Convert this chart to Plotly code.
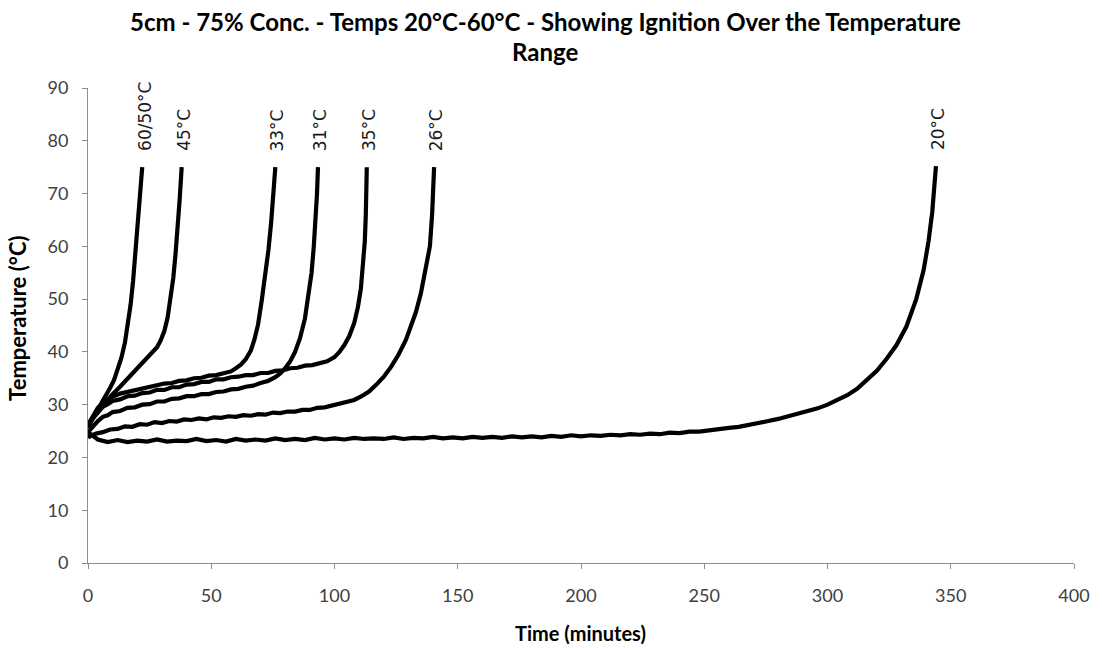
import plotly.graph_objects as go

# ---- data ----
t_60_50 = [0, 1.5, 3, 4.5, 6, 7.5, 9, 10.5, 12, 13.5, 15, 16.2, 17.3, 18.3, 19.2, 20, 20.8, 21.5, 22]
temp_60_50 = [25.8, 27.0, 28.4, 29.4, 30.8, 31.8, 33.2, 34.6, 36.5, 38.8, 41.8, 45.0, 49.0, 53.5, 58.5, 63.5, 68.5, 72.0, 75.0]

t_45 = [0, 2, 4, 6, 8, 10, 13, 16, 19, 22, 24, 26, 28, 29.5, 31, 32.3, 33.5, 34.6, 35.5, 36.4, 37.2, 38]
temp_45 = [26.0, 27.5, 28.9, 29.9, 31.0, 32.0, 33.4, 34.9, 36.4, 37.9, 38.9, 39.8, 40.9, 42.2, 44.0, 46.5, 50.0, 54.0, 58.5, 63.5, 69.0, 75.0]

t_33 = [0, 2, 4, 6, 8, 10, 13, 16, 19, 22, 25, 28, 31, 34, 37, 40, 43, 46, 49, 52, 55, 58, 60, 62, 64, 66, 67.5, 69, 70.5, 72, 73.2, 74.3, 75.2, 76]
temp_33 = [26.2, 28.0, 29.4, 30.3, 31.0, 31.5, 32.1, 32.4, 32.9, 33.0, 33.5, 33.6, 34.0, 34.1, 34.5, 34.6, 35.0, 35.1, 35.5, 35.6, 36.0, 36.3, 36.9, 37.6, 38.6, 40.2, 42.3, 45.2, 49.8, 54.5, 59.3, 64.5, 70.0, 75.0]

t_31 = [0, 2, 4, 6, 8, 10, 13, 16, 19, 22, 25, 28, 31, 34, 37, 40, 43, 46, 49, 52, 55, 58, 61, 64, 67, 70, 73, 76, 78, 80, 82, 84, 86, 88, 89.5, 90.7, 91.6, 92.4, 92.9, 93.3]
temp_31 = [24.8, 26.0, 26.9, 27.7, 28.0, 28.6, 28.8, 29.4, 29.5, 30.0, 30.1, 30.6, 30.6, 31.1, 31.2, 31.6, 31.6, 32.0, 32.0, 32.4, 32.5, 32.9, 33.0, 33.4, 33.6, 34.1, 34.5, 35.2, 35.9, 36.9, 38.2, 40.0, 42.6, 46.3, 50.5, 55.0, 60.0, 65.5, 70.0, 75.0]

t_35 = [0, 2, 4, 6, 8, 10, 13, 16, 19, 22, 25, 28, 31, 34, 37, 40, 43, 46, 49, 52, 55, 58, 61, 64, 67, 70, 73, 76, 79, 82, 85, 88, 91, 94, 97, 100, 102, 104, 106, 108, 109.5, 110.7, 111.7, 112.3, 112.7, 112.9, 113.1]
temp_35 = [25.6, 27.4, 28.5, 29.6, 30.1, 30.7, 31.0, 31.6, 31.7, 32.2, 32.3, 32.8, 32.8, 33.3, 33.3, 33.8, 33.9, 34.3, 34.3, 34.8, 34.8, 35.2, 35.3, 35.6, 35.6, 36.0, 36.0, 36.4, 36.5, 36.9, 37.0, 37.4, 37.5, 37.9, 38.2, 39.0, 40.0, 41.3, 43.0, 45.5, 48.5, 52.0, 56.5, 61.0, 66.0, 70.5, 75.0]

t_26 = [0, 3, 6, 9, 12, 15, 18, 21, 24, 27, 30, 33, 36, 39, 42, 45, 48, 51, 54, 57, 60, 63, 66, 69, 72, 75, 78, 81, 84, 87, 90, 93, 96, 99, 102, 105, 108, 111, 114, 117, 120, 123, 126, 129, 131, 133, 135, 137, 138.7, 139.6, 140.1, 140.4]
temp_26 = [23.8, 24.5, 24.8, 25.3, 25.4, 25.9, 25.8, 26.3, 26.2, 26.7, 26.5, 26.9, 26.8, 27.2, 27.1, 27.4, 27.2, 27.6, 27.5, 27.8, 27.7, 28.0, 27.9, 28.2, 28.1, 28.5, 28.4, 28.7, 28.7, 29.0, 29.0, 29.4, 29.5, 29.9, 30.1, 30.5, 30.9, 31.6, 32.5, 33.8, 35.3, 37.2, 39.5, 42.3, 44.8, 47.5, 51.0, 55.5, 60.0, 66.0, 70.5, 75.0]

t_20 = [0, 4, 8, 12, 16, 20, 24, 28, 32, 36, 40, 44, 48, 52, 56, 60, 64, 68, 72, 76, 80, 84, 88, 92, 96,
        100, 104, 108, 112, 116, 120, 124, 128, 132, 136, 140, 144, 148, 152, 156, 160, 164, 168, 172, 176,
        180, 184, 188, 192, 196, 200, 204, 208, 212, 216, 220, 224, 228, 232, 236, 240, 244, 248, 252, 256,
        260, 264, 268, 272, 276, 280, 284, 288, 292, 296, 300, 304, 308, 312, 316, 320, 324, 328, 332, 336,
        339, 341, 342.5, 343.4, 344]
temp_20 = [24.8, 23.4, 22.9, 23.3, 22.9, 23.2, 23.0, 23.4, 23.0, 23.2, 23.1, 23.5, 23.1, 23.3, 23.0, 23.5, 23.2, 23.4, 23.2, 23.6, 23.3, 23.5, 23.3, 23.7, 23.4,
           23.6, 23.4, 23.7, 23.5, 23.6, 23.5, 23.8, 23.5, 23.7, 23.6, 23.9, 23.6, 23.8, 23.6, 23.9, 23.7, 23.9, 23.7, 24.0, 23.8,
           24.0, 23.8, 24.1, 23.9, 24.2, 24.0, 24.2, 24.1, 24.3, 24.2, 24.4, 24.3, 24.5, 24.4, 24.7, 24.6, 24.9, 24.9, 25.2, 25.3,
           25.6, 25.8, 26.1, 26.5, 26.9, 27.3, 27.8, 28.2, 28.8, 29.3, 30.0, 30.8, 31.8, 33.0, 34.6, 36.4, 38.7, 41.3, 44.8, 50.0,
           55.5, 61.0, 66.5, 71.0, 75.2]

series_names = ["60/50°C", "45°C", "33°C", "31°C", "35°C", "26°C", "20°C"]
series_t = [t_60_50, t_45, t_33, t_31, t_35, t_26, t_20]
series_temp = [temp_60_50, temp_45, temp_33, temp_31, temp_35, temp_26, temp_20]

x_ticks = [0, 50, 100, 150, 200, 250, 300, 350, 400]
y_ticks = [0, 10, 20, 30, 40, 50, 60, 70, 80, 90]

title_line1 = "5cm - 75% Conc. - Temps 20°C-60°C - Showing Ignition Over the Temperature"
title_line2 = "Range"
x_title = "Time (minutes)"
y_title = "Temperature (°C)"

# ---- figure ----
fig = go.Figure()
for name, tt, yy in zip(series_names, series_t, series_temp):
    fig.add_trace(go.Scatter(x=tt, y=yy, mode="lines", name=name,
                             line=dict(color="black", width=4.2), showlegend=False))
    fig.add_annotation(x=tt[-1], y=yy[-1], text=name, textangle=-90, showarrow=False,
                       xanchor="center", yanchor="bottom", yshift=14, xshift=2,
                       font=dict(family="DejaVu Sans", size=17, color="#1a1a1a"))

title_font = dict(family="Lato", size=24, color="black", weight="bold")
fig.add_annotation(xref="paper", yref="paper", x=0.4635, y=1.139, text=title_line1,
                   showarrow=False, xanchor="center", yanchor="middle", font=title_font)
fig.add_annotation(xref="paper", yref="paper", x=0.4635, y=1.076, text=title_line2,
                   showarrow=False, xanchor="center", yanchor="middle", font=title_font)

axis_title_font = dict(family="Lato", size=20, color="black", weight="bold")
fig.add_annotation(xref="paper", yref="paper", x=0.499, y=-0.147, text=x_title,
                   showarrow=False, xanchor="center", yanchor="middle", font=axis_title_font)
fig.add_annotation(xref="paper", yref="paper", x=-0.071, y=0.516, text=y_title, textangle=-90,
                   showarrow=False, xanchor="center", yanchor="middle",
                   font=dict(family="Lato", size=22, color="black", weight="bold"))

tick_font = dict(family="Lato", size=18, color="#404040")
fig.update_layout(
    width=1102, height=648,
    margin=dict(l=88, r=28, t=88, b=85),
    paper_bgcolor="white", plot_bgcolor="white",
    xaxis=dict(range=[0, 400], tickvals=x_ticks, showgrid=False, zeroline=False,
               showline=True, linecolor="#8c8c8c", linewidth=1,
               ticks="outside", ticklen=5, tickcolor="#8c8c8c",
               tickfont=tick_font, ticklabelstandoff=11),
    yaxis=dict(range=[0, 90], tickvals=y_ticks, showgrid=False, zeroline=False,
               showline=True, linecolor="#8c8c8c", linewidth=1,
               ticks="outside", ticklen=5, tickcolor="#8c8c8c",
               tickfont=tick_font, ticklabelstandoff=10),
)

fig.write_html("out.html")
